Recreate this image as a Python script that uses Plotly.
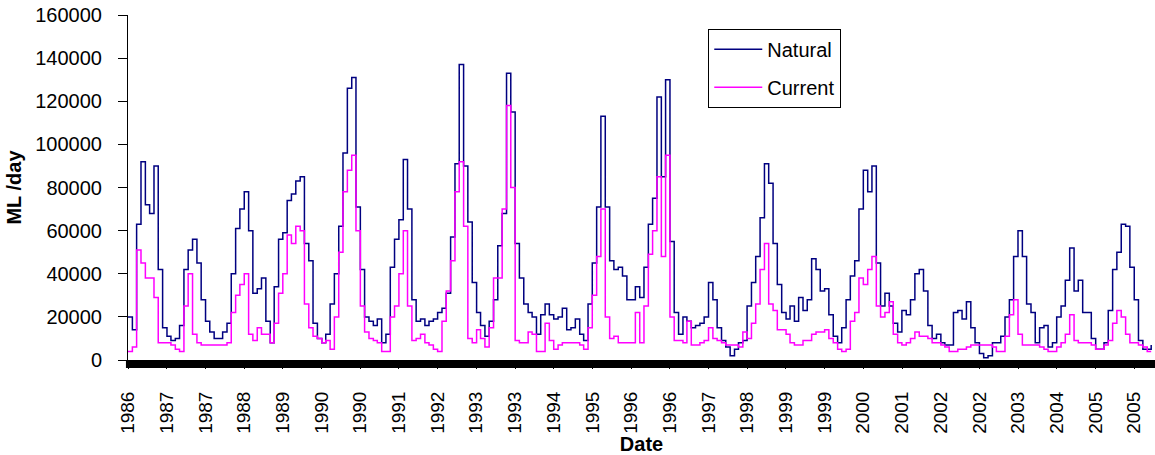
import pandas as pd
import plotly.graph_objects as go

# Monthly flow readings (thousand ML/day), starting May 1986
natural_k = [
    20, 14, 63, 92, 72, 68, 90, 42, 15, 11,
    9, 10, 16, 42, 51, 56, 45, 28, 18, 13,
    10, 10, 13, 17, 40, 61, 70, 78, 60, 31,
    33, 38, 18, 8, 34, 56, 59, 74, 77, 83,
    85, 54, 46, 17, 10, 8, 12, 26, 40, 62,
    96, 126, 131, 71, 42, 20, 18, 16, 19, 8,
    12, 43, 56, 65, 93, 70, 28, 18, 19, 16,
    18, 19, 22, 24, 31, 57, 91, 137, 90, 64,
    36, 22, 16, 11, 18, 28, 53, 68, 133, 115,
    54, 38, 26, 22, 20, 12, 21, 26, 21, 19,
    20, 24, 14, 15, 19, 12, 9, 26, 45, 71,
    113, 71, 46, 42, 43, 39, 28, 28, 34, 29,
    43, 63, 75, 122, 85, 130, 55, 22, 12, 20,
    18, 15, 16, 17, 20, 36, 28, 15, 9, 6,
    2, 5, 8, 9, 25, 36, 48, 66, 91, 82,
    54, 35, 22, 19, 25, 18, 29, 23, 28, 47,
    42, 32, 33, 21, 11, 8, 15, 28, 39, 46,
    70, 88, 78, 90, 45, 25, 31, 25, 17, 13,
    23, 21, 28, 40, 42, 32, 16, 10, 12, 8,
    7, 7, 22, 23, 19, 27, 15, 8, 3, 1,
    2, 8, 8, 11, 20, 28, 48, 60, 48, 26,
    22, 8, 15, 16, 6, 8, 20, 25, 37, 52,
    32, 37, 22, 22, 10, 5, 5, 8, 23, 42,
    50, 63, 62, 43, 28, 9, 5, 5, 7,
]
current_k = [
    4, 6, 51, 45, 38, 38, 29, 8, 8, 8,
    7, 5, 4, 25, 40, 12, 8, 7, 7, 7,
    7, 7, 7, 8, 22, 30, 35, 40, 12, 9,
    15, 12, 12, 8, 17, 31, 40, 58, 54, 62,
    60, 26, 15, 11, 10, 8, 9, 5, 20, 50,
    78, 88, 95, 60, 25, 13, 10, 9, 8, 4,
    4, 20, 25, 40, 60, 25, 9, 10, 12, 8,
    7, 5, 4, 18, 32, 46, 78, 92, 62, 10,
    8, 14, 10, 6, 15, 38, 38, 70, 118, 80,
    9, 8, 8, 13, 12, 4, 4, 17, 9, 5,
    7, 8, 8, 8, 8, 7, 5, 15, 30, 48,
    70, 20, 10, 11, 8, 8, 8, 8, 22, 8,
    25, 49, 60, 85, 48, 95, 20, 9, 9, 8,
    18, 7, 7, 8, 9, 15, 10, 9, 8, 7,
    7, 7, 6, 13, 10, 17, 26, 42, 54, 26,
    23, 14, 14, 12, 8, 7, 7, 9, 9, 12,
    13, 13, 14, 10, 8, 5, 4, 5, 18, 22,
    38, 35, 42, 48, 25, 20, 22, 27, 12, 8,
    7, 8, 10, 13, 11, 11, 10, 8, 8, 7,
    6, 4, 4, 5, 5, 6, 7, 7, 7, 7,
    7, 6, 4, 4, 11, 21, 28, 12, 7, 7,
    7, 7, 6, 5, 4, 4, 6, 8, 12, 21,
    9, 8, 8, 8, 7, 5, 5, 7, 9, 17,
    23, 20, 12, 8, 8, 7, 6, 4, 4,
]
start_date = "1986-05-01"
tick_step_days = 274
n_ticks = 27

natural = [v * 1000 for v in natural_k]
current = [v * 1000 for v in current_k]
dates = pd.date_range(start_date, periods=len(natural), freq="MS")
t0 = pd.Timestamp(start_date)
tickvals = [t0 + pd.Timedelta(days=tick_step_days * i) for i in range(n_ticks)]
x_end = t0 + pd.Timedelta(days=7271)

FONT = "Liberation Sans, Arial, Helvetica, sans-serif"

fig = go.Figure()
fig.add_trace(go.Scatter(x=dates, y=natural, name="Natural", mode="lines",
                         line=dict(color="#000080", width=1.5, shape="hv"),
                         legendgroup="a"))
fig.add_trace(go.Scatter(x=dates, y=current, name="Current", mode="lines",
                         line=dict(color="#FF00FF", width=1.5, shape="hv"),
                         legendgroup="b"))

fig.update_layout(
    width=1155, height=455,
    margin=dict(l=128, r=0, t=15, b=95),
    paper_bgcolor="white", plot_bgcolor="white",
    font=dict(family=FONT, size=20, color="black"),
    showlegend=True,
    legend=dict(x=0.565, y=0.960, xanchor="left", yanchor="top",
                bordercolor="black", borderwidth=1, bgcolor="white",
                font=dict(size=20), tracegroupgap=9, itemwidth=48),
)
fig.update_xaxes(
    type="date", range=[t0, x_end],
    tickvals=tickvals, tickformat="%Y", tickangle=-90,
    tickfont=dict(size=19),
    ticks="outside", ticklen=8, tickcolor="black",
    ticklabelstandoff=15,
    showline=False, showgrid=False, zeroline=False,
    title=dict(text="<b>Date</b>", font=dict(size=20), standoff=4),
)
fig.update_yaxes(
    range=[0, 160000], dtick=20000, tickformat="d",
    ticks="outside", ticklen=9, tickcolor="black",
    ticklabelstandoff=12,
    showline=True, linecolor="black", linewidth=1,
    showgrid=False, zeroline=False,
    title=dict(text="<b>ML /day</b>", font=dict(size=20), standoff=8),
)
# thick black band along the date axis
fig.add_shape(type="rect", xref="paper", yref="paper",
              x0=-0.002, x1=1.0, y0=0, y1=-8,
              ysizemode="pixel", yanchor=0,
              fillcolor="black", line=dict(width=0), layer="above")

fig.write_html("out.html")
